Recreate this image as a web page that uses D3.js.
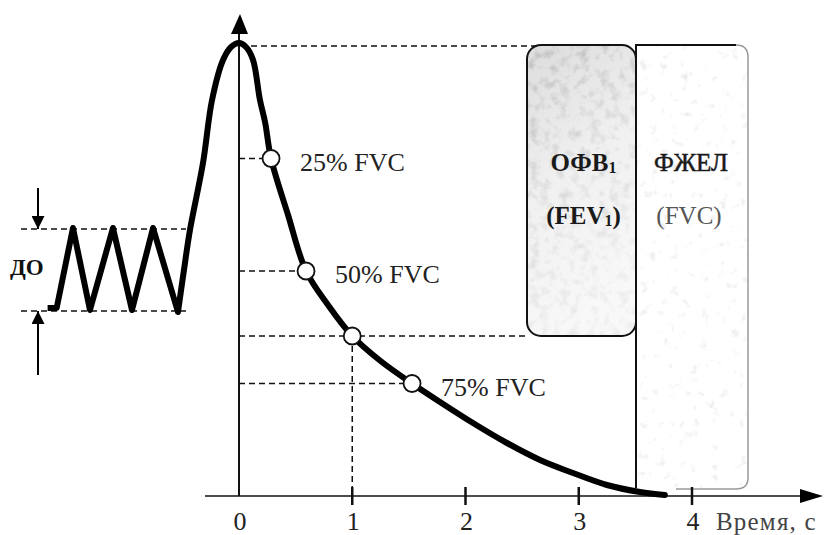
<!DOCTYPE html>
<html>
<head>
<meta charset="utf-8">
<script src="https://cdn.jsdelivr.net/npm/d3@7"></script>
<style>
  html, body { margin: 0; padding: 0; background: #fff; }
  svg { display: block; }
  text { font-family: "Liberation Serif", "Times New Roman", serif; }
</style>
</head>
<body>
<div id="chart"></div>
<script>
// spirogram: tidal breathing then forced expiration (volume in l, time in s)
var tidal_t = [-1.69, -1.61, -1.466, -1.316, -1.113, -0.945, -0.759, -0.539];
var tidal_v = [1.88, 1.88, 2.68, 1.86, 2.68, 1.86, 2.68, 1.84];

var curve_t = [-0.539, -0.486, -0.433, -0.318, -0.238, -0.141, -0.07, 0, 0.062, 0.124, 0.185,
               0.230, 0.283, 0.433, 0.592, 0.786, 1.0, 1.25, 1.528, 1.775, 2.066, 2.366,
               2.658, 2.949, 3.249, 3.541, 3.76];
var curve_v = [1.84, 2.26, 2.66, 3.33, 3.96, 4.36, 4.49, 4.53, 4.49, 4.36, 3.96,
               3.74, 3.375, 2.81, 2.25, 1.91, 1.6, 1.35, 1.125, 0.94, 0.73, 0.53,
               0.36, 0.23, 0.11, 0.04, 0.01];

var tidal_top = 2.68, tidal_bottom = 1.86;
var fvc = 4.5, fev1 = 2.9;

var marker_labels = ['25% FVC', '50% FVC', '', '75% FVC'];
var marker_t = [0.283, 0.592, 1.0, 1.528];
var marker_v = [3.375, 2.25, 1.6, 1.125];

var tick_values = [0, 1, 2, 3, 4];
var axis_title = 'Время, с';
var tidal_label = 'ДО';

var width = 828, height = 535;

var svg = d3.select('#chart').append('svg')
  .attr('width', width)
  .attr('height', height);

var x = d3.scaleLinear().domain([0, 4]).range([239, 692]);
var y = d3.scaleLinear().domain([0, 4.5]).range([496, 46]);

var defs = svg.append('defs');

// grainy print texture for the boxes
function make_grain(id, k, b, seed){
  var f = defs.append('filter').attr('id', id)
    .attr('x', 0).attr('y', 0).attr('width', 1).attr('height', 1);
  f.append('feTurbulence')
    .attr('type', 'fractalNoise')
    .attr('baseFrequency', 0.1)
    .attr('numOctaves', 3)
    .attr('seed', seed)
    .attr('result', 'noise');
  f.append('feColorMatrix')
    .attr('in', 'noise')
    .attr('type', 'matrix')
    .attr('values', '0 0 0 0 0.5  0 0 0 0 0.5  0 0 0 0 0.5  ' + k + ' 0 0 0 ' + b)
    .attr('result', 'speck');
  f.append('feComposite')
    .attr('in', 'speck')
    .attr('in2', 'SourceGraphic')
    .attr('operator', 'in');
}
make_grain('grain1', 2.6, -1.25, 4);
make_grain('grain2', 1.2, -0.75, 9);

var grad = defs.append('linearGradient').attr('id', 'fev_fill')
  .attr('x1', 0).attr('y1', 0).attr('x2', 0.3).attr('y2', 1);
grad.append('stop').attr('offset', 0).attr('stop-color', '#dcdcdc');
grad.append('stop').attr('offset', 0.5).attr('stop-color', '#f0f0f0');
grad.append('stop').attr('offset', 1).attr('stop-color', '#f8f8f8');

var fade = defs.append('linearGradient').attr('id', 'fade')
  .attr('x1', 0).attr('y1', 0).attr('x2', 0.3).attr('y2', 1);
fade.append('stop').attr('offset', 0).attr('stop-color', '#fff').attr('stop-opacity', 1);
fade.append('stop').attr('offset', 0.45).attr('stop-color', '#fff').attr('stop-opacity', 0.5);
fade.append('stop').attr('offset', 1).attr('stop-color', '#fff').attr('stop-opacity', 0.25);
defs.append('mask').attr('id', 'fade_mask')
  .attr('maskContentUnits', 'objectBoundingBox')
  .append('rect').attr('width', 1).attr('height', 1).attr('fill', 'url(#fade)');

var arrow = defs.append('marker').attr('id', 'arr')
  .attr('viewBox', '0 0 10 10')
  .attr('refX', 10).attr('refY', 5)
  .attr('markerWidth', 19).attr('markerHeight', 13)
  .attr('markerUnits', 'userSpaceOnUse')
  .attr('orient', 'auto');
arrow.append('path').attr('d', 'M0,0L10,5L0,10Z').attr('fill', '#000');

// boxes for FEV1 and FVC
var box1_x0 = 527, box1_x1 = 636, box2_x1 = 748;

svg.append('rect')
  .attr('x', box1_x1).attr('y', y(fvc) - 1)
  .attr('width', box2_x1 - box1_x1).attr('height', y(0) - y(fvc) - 6)
  .attr('rx', 12)
  .attr('fill', '#fff')
  .attr('filter', 'url(#grain2)');
svg.append('path')
  .attr('d', 'M' + box1_x1 + ',' + (y(0) - 8) + 'V' + (y(fvc) - 1) + 'H' + (box2_x1 - 12))
  .attr('fill', 'none')
  .attr('stroke', '#111')
  .attr('stroke-width', 2);
svg.append('path')
  .attr('d', 'M' + (box2_x1 - 12) + ',' + (y(fvc) - 1) + 'Q' + box2_x1 + ',' + (y(fvc) - 1) + ' ' + box2_x1 + ',' + (y(fvc) + 11) +
             'V' + (y(0) - 18) + 'Q' + box2_x1 + ',' + (y(0) - 7) + ' ' + (box2_x1 - 12) + ',' + (y(0) - 7) + 'H' + (box1_x1 + 40))
  .attr('fill', 'none')
  .attr('stroke', '#9a9a9a')
  .attr('stroke-width', 1.5);

var box1 = {x: box1_x0, y: y(fvc) - 1, w: box1_x1 - box1_x0, h: y(fvc - fev1) - y(fvc) + 1};
svg.append('rect')
  .attr('x', box1.x).attr('y', box1.y).attr('width', box1.w).attr('height', box1.h)
  .attr('rx', 14)
  .attr('fill', 'url(#fev_fill)');
svg.append('g').attr('mask', 'url(#fade_mask)')
  .append('rect')
  .attr('x', box1.x).attr('y', box1.y).attr('width', box1.w).attr('height', box1.h)
  .attr('rx', 14)
  .attr('fill', '#fff')
  .attr('filter', 'url(#grain1)');
svg.append('rect')
  .attr('x', box1.x).attr('y', box1.y).attr('width', box1.w).attr('height', box1.h)
  .attr('rx', 14)
  .attr('fill', 'none')
  .attr('stroke', '#111')
  .attr('stroke-width', 2);

var c1 = (box1_x0 + box1_x1) / 2 + 2, c2 = (box1_x1 + box2_x1) / 2 - 1;
var t1 = svg.append('text').attr('x', c1).attr('y', 171)
  .attr('text-anchor', 'middle').attr('font-size', 25).attr('font-weight', 'bold').attr('fill', '#1a1a1a')
  .text('ОФВ');
t1.append('tspan').attr('font-size', 16).attr('dy', 2).text('1');
var t2 = svg.append('text').attr('x', c1).attr('y', 224)
  .attr('text-anchor', 'middle').attr('font-size', 25).attr('font-weight', 'bold').attr('fill', '#1a1a1a')
  .text('(FEV');
t2.append('tspan').attr('font-size', 16).attr('dy', 2).text('1');
t2.append('tspan').attr('dy', -2).text(')');
svg.append('text').attr('x', c2).attr('y', 171)
  .attr('text-anchor', 'middle').attr('font-size', 25).attr('fill', '#1a1a1a')
  .attr('stroke', '#1a1a1a').attr('stroke-width', 0.5)
  .text('ФЖЕЛ');
svg.append('text').attr('x', c2 - 2).attr('y', 224)
  .attr('text-anchor', 'middle').attr('font-size', 25).attr('fill', '#555')
  .text('(FVC)');

// dashed guide lines
var dash = '6,4';
svg.append('line')
  .attr('x1', x(0) + 12).attr('x2', box1_x0 + 10)
  .attr('y1', y(fvc)).attr('y2', y(fvc))
  .attr('stroke', '#111').attr('stroke-width', 1.6).attr('stroke-dasharray', dash);

svg.selectAll('.guide')
  .data(marker_t)
  .enter()
  .append('line')
  .attr('class', 'guide')
  .attr('x1', x(0))
  .attr('x2', function(d, i){ return i === 2 ? box1_x0 : x(d) - 6; })
  .attr('y1', function(d, i){ return y(marker_v[i]); })
  .attr('y2', function(d, i){ return y(marker_v[i]); })
  .attr('stroke', '#111').attr('stroke-width', 1.5).attr('stroke-dasharray', dash);

svg.append('line')
  .attr('x1', x(1)).attr('x2', x(1))
  .attr('y1', y(marker_v[2])).attr('y2', y(0))
  .attr('stroke', '#111').attr('stroke-width', 1.5).attr('stroke-dasharray', dash);

[tidal_top, tidal_bottom].forEach(function(v){
  svg.append('line')
    .attr('x1', 21).attr('x2', 186)
    .attr('y1', y(v) + 1).attr('y2', y(v) + 1)
    .attr('stroke', '#111').attr('stroke-width', 1.6).attr('stroke-dasharray', dash);
});

// axes
svg.append('line')
  .attr('x1', 205).attr('x2', 805)
  .attr('y1', y(0)).attr('y2', y(0))
  .attr('stroke', '#111').attr('stroke-width', 1.6);
svg.append('path')
  .attr('d', 'M800,' + (y(0) - 7) + 'L823,' + y(0) + 'L800,' + (y(0) + 7) + 'Z')
  .attr('fill', '#000');

svg.append('line')
  .attr('x1', x(0)).attr('x2', x(0))
  .attr('y1', y(0)).attr('y2', 30)
  .attr('stroke', '#111').attr('stroke-width', 2);
svg.append('path')
  .attr('d', 'M' + (x(0) - 8) + ',34L' + (x(0) + 1) + ',14L' + (x(0) + 9) + ',34Z')
  .attr('fill', '#000');

svg.selectAll('.tick')
  .data(tick_values.slice(1))
  .enter()
  .append('line')
  .attr('x1', function(d){ return x(d); })
  .attr('x2', function(d){ return x(d); })
  .attr('y1', y(0) - 9).attr('y2', y(0) + 9)
  .attr('stroke', '#111').attr('stroke-width', 2.5);

svg.selectAll('.tick_label')
  .data(tick_values)
  .enter()
  .append('text')
  .attr('x', function(d){ return x(d) + 1; })
  .attr('y', 530)
  .attr('text-anchor', 'middle')
  .attr('font-size', 26)
  .attr('fill', '#222')
  .text(function(d){ return d; });

svg.append('text')
  .attr('x', 716).attr('y', 530)
  .attr('font-size', 25)
  .attr('letter-spacing', 1.2)
  .attr('fill', '#444')
  .text(axis_title);

// tidal volume marker
svg.append('line')
  .attr('x1', 38).attr('x2', 38).attr('y1', 188).attr('y2', y(tidal_top) + 1)
  .attr('stroke', '#000').attr('stroke-width', 2)
  .attr('marker-end', 'url(#arr)');
svg.append('line')
  .attr('x1', 38).attr('x2', 38).attr('y1', 375).attr('y2', y(tidal_bottom) + 1)
  .attr('stroke', '#000').attr('stroke-width', 2)
  .attr('marker-end', 'url(#arr)');
svg.append('text')
  .attr('x', 10).attr('y', 275)
  .attr('font-family', '"Liberation Sans", Arial, sans-serif')
  .attr('font-size', 23).attr('font-weight', 'bold')
  .attr('fill', '#111')
  .text(tidal_label);

// spirogram curve
var tidal_line = d3.line()
  .x(function(d){ return x(d[0]); })
  .y(function(d){ return y(d[1]); });

var curve_line = d3.line()
  .curve(d3.curveCatmullRom.alpha(0.5))
  .x(function(d){ return x(d[0]); })
  .y(function(d){ return y(d[1]); });

svg.append('path')
  .datum(d3.zip(tidal_t, tidal_v))
  .attr('d', tidal_line)
  .attr('fill', 'none')
  .attr('stroke', '#000')
  .attr('stroke-width', 6)
  .attr('stroke-linejoin', 'round');

svg.append('path')
  .datum(d3.zip(curve_t, curve_v))
  .attr('d', curve_line)
  .attr('fill', 'none')
  .attr('stroke', '#000')
  .attr('stroke-width', 6)
  .attr('stroke-linejoin', 'round')
  .attr('stroke-linecap', 'round');

// markers and labels
svg.selectAll('.mark')
  .data(marker_t)
  .enter()
  .append('circle')
  .attr('class', 'mark')
  .attr('cx', function(d){ return x(d); })
  .attr('cy', function(d, i){ return y(marker_v[i]); })
  .attr('r', 8.5)
  .attr('fill', '#fff')
  .attr('stroke', '#111')
  .attr('stroke-width', 1.8);

svg.selectAll('.mark_label')
  .data(marker_labels)
  .enter()
  .append('text')
  .attr('x', function(d, i){ return x(marker_t[i]) + 29; })
  .attr('y', function(d, i){ return y(marker_v[i]) + 12; })
  .attr('font-size', 26)
  .attr('fill', '#222')
  .text(function(d){ return d; });
</script>
</body>
</html>
